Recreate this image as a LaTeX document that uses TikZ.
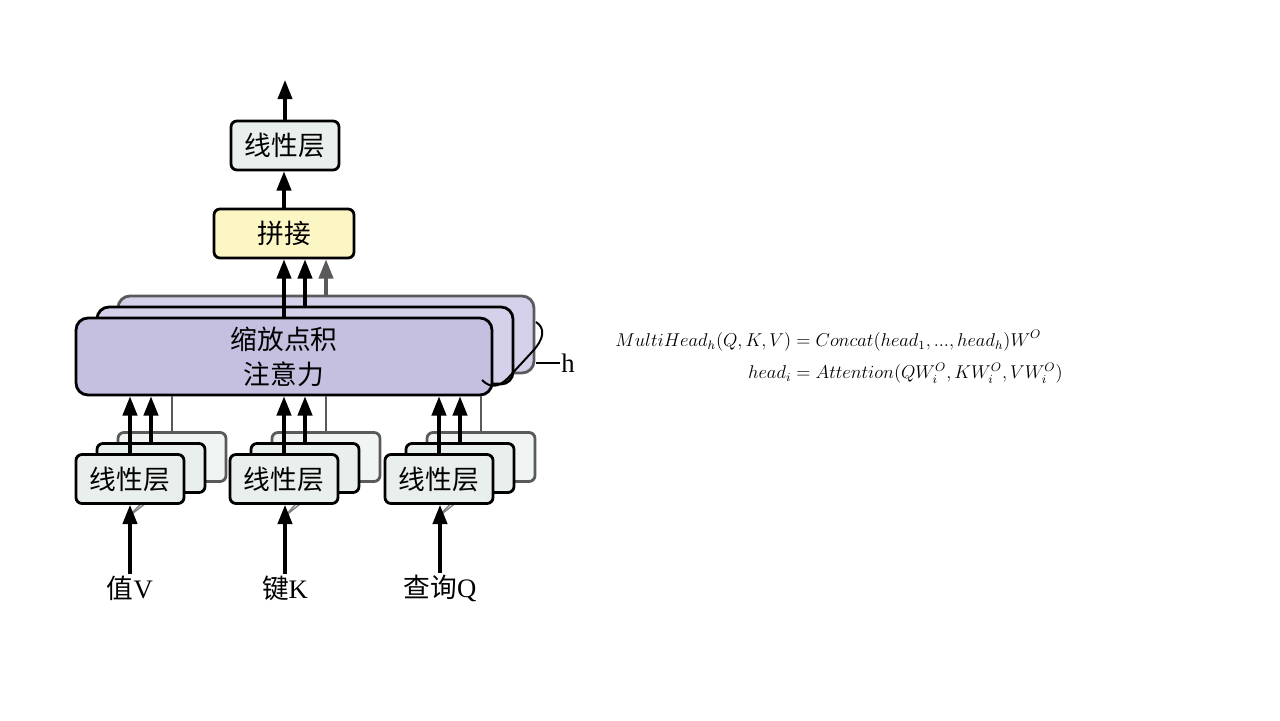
\documentclass[tikz,border=0pt]{standalone}
\usepackage{amsmath}
\usepackage{fontspec}
\setmainfont{Liberation Serif}
\newfontfamily\cjk{Noto Sans CJK SC}
\usetikzlibrary{shapes,arrows.meta,positioning,calc}

\definecolor{linfill}{RGB}{233,239,236}
\definecolor{catfill}{RGB}{252,246,196}
\definecolor{attfill}{RGB}{197,191,224}
\definecolor{attback}{RGB}{213,209,234}
\definecolor{backline}{RGB}{90,90,90}

\tikzset{
  box/.style={draw, line width=2pt, rounded corners=0.15cm, inner sep=0pt,
    minimum height=1.225cm, font=\cjk\fontsize{19}{25}\selectfont},
  linbox/.style={box, fill=linfill, minimum width=2.7cm},
  linback/.style={linbox, draw=backline, fill=linfill!70},
  catbox/.style={box, fill=catfill, minimum width=3.5cm},
  attbox/.style={box, fill=attfill, rounded corners=0.3cm, minimum width=10.4cm,
    minimum height=1.925cm, align=center},
  attlayer/.style={attbox, fill=attback, draw=backline},
  arr/.style={line width=2.2pt, -{Triangle[length=0.48cm,width=0.36cm]}},
  garr/.style={arr, draw=backline, -{Triangle[length=0.48cm,width=0.36cm,fill=backline]}},
  gline/.style={line width=1.8pt, draw=backline},
  thin/.style={line width=1pt, draw=gray},
  lab/.style={font=\fontsize{19}{22}\selectfont, inner sep=1pt}
}

\begin{document}
\begin{tikzpicture}
\useasboundingbox (0,0) rectangle (32,18);

% 注意力层 (h 个)
\node[attlayer] (att3) at (8.15,9.6375) {\phantom{缩放点积}\\\phantom{注意力}};
\node[attbox, fill=attback] (att2) at (7.625,9.3625) {\phantom{缩放点积}\\\phantom{注意力}};
\node[attbox] (att1) at (7.1,9.0875) {缩放点积\\注意力};

% 拼接与输出
\node[catbox] (concat) at (7.1,12.1625) {拼接};
\node[linbox] (outlin) at (7.125,14.3625) {线性层};
\coordinate (out) at (7.125,16);

% 线性层 (V, K, Q)
\node[linback] (linV3) at (4.3,6.575) {};
\node[linbox] (linV2) at (3.775,6.3) {};
\node[linback] (linK3) at (8.15,6.575) {};
\node[linbox] (linK2) at (7.625,6.3) {};
\node[linback] (linQ3) at (12.025,6.575) {};
\node[linbox] (linQ2) at (11.5,6.3) {};

% 输入
\node[lab] (labV) at (3.25,3.3) {{\cjk 值}V};
\node[lab] (labK) at (7.125,3.3) {{\cjk 键}K};
\node[lab] (labQ) at (11,3.3) {{\cjk 查询}Q};

\foreach \c/\x in {V/3.2, K/7.1, Q/10.95} {
  \coordinate (s\c) at (\x,5.075);
  \draw[thin] (s\c) -- (lin\c2.south);
  \draw[thin] (s\c) -- (lin\c3.south);
}

\node[linbox] (linV1) at (3.25,6.025) {线性层};
\node[linbox] (linK1) at (7.1,6.025) {线性层};
\node[linbox] (linQ1) at (10.975,6.025) {线性层};

\draw[arr] (labV.north) -- (labV.north |- linV1.south);
\draw[arr] (labK.north) -- (labK.north |- linK1.south);
\draw[arr] (labQ.north) -- (labQ.north |- linQ1.south);

% 线性层 -> 注意力
\foreach \c in {V,K,Q} {
  \draw[arr] (lin\c1.north) -- (lin\c1.north |- att1.south);
  \draw[arr] (lin\c2.north) -- (lin\c2.north |- att1.south);
  \draw[gline] (lin\c3.north) -- (lin\c3.north |- att1.south);
}

% 注意力 -> 拼接 -> 线性层
\draw[arr] (att1.north) -- (att1.north |- concat.south);
\draw[arr] (att2.north) -- (att2.north |- concat.south);
\draw[garr] (att3.north) -- (att3.north |- concat.south);
\draw[arr] (concat.north) -- (concat.north |- outlin.south);
\draw[arr] (outlin.north) -- (out);

% h
\node[lab] (h) at (14.2,8.925) {h};
\draw[line width=1.4pt] (12.05,8.5) .. controls (12.25,8.3) and (12.45,8.3) .. (12.7,8.55)
  -- (13.3,9.2) .. controls (13.625,9.55) and (13.625,9.8) .. (13.4,9.95);
\draw[line width=1.4pt] (h.west) -- ++(-0.6,0);

% 公式
\node[font=\fontsize{12}{15}\selectfont, scale=1.1, transform shape] (eq) at (20.975,9.05) {$\begin{aligned}
  MultiHead_h(Q,K,V) &= Concat(head_1,...,head_h)W^O\\[3pt]
  head_i &= Attention(QW_i^O,KW_i^O,VW_i^O)
\end{aligned}$};
\end{tikzpicture}
\end{document}
